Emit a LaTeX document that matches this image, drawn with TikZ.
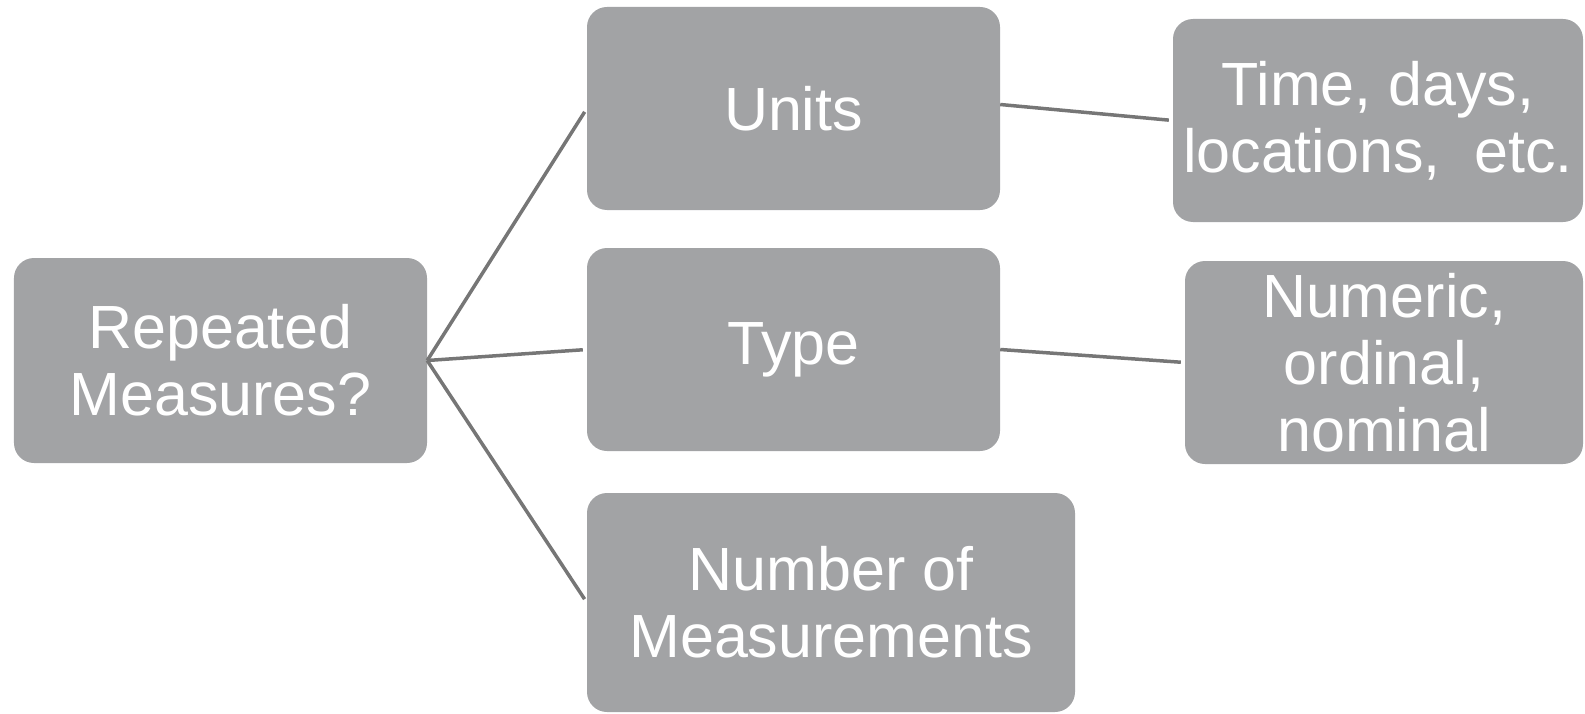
\documentclass[tikz,border=0pt]{standalone}
\usepackage{fontspec}
\setmainfont{Liberation Sans}
\definecolor{boxgray}{RGB}{162,163,165}
\definecolor{linkgray}{RGB}{118,118,118}
\begin{document}
\begin{tikzpicture}[x=1bp,y=-1bp,
  box/.style={rectangle, rounded corners=20bp, fill=boxgray, draw=none,
    text=white, align=center, inner sep=0pt,
    font=\fontsize{61bp}{67bp}\selectfont},
  link/.style={draw=linkgray, line width=3.5bp, shorten >=4bp}]
  \useasboundingbox (0,0) rectangle (1585,714);

  % root
  \node[box, minimum width=413bp, minimum height=205bp] (rep) at (220.5,360.5)
    {Repeated\\Measures?};

  % middle column
  \node[box, minimum width=413bp, minimum height=203bp] (units) at (793.5,108.5) {Units};
  \node[box, minimum width=413bp, minimum height=203bp] (type) at (793.5,349.5) {Type};
  \node[box, minimum width=488bp, minimum height=219bp] (num) at (831,602.5)
    {Number of\\Measurements};

  % right column
  \node[box, minimum width=410bp, minimum height=203bp] (time) at (1378,120.5)
    {Time, days,\\locations,~ etc.};
  \node[box, minimum width=398bp, minimum height=203bp] (kind) at (1384,362.5)
    {Numeric,\\ordinal,\\nominal};

  % connectors
  \draw[link] (rep.east) -- (units.west);
  \draw[link] (rep.east) -- (type.west);
  \draw[link] (rep.east) -- (num.west);
  \draw[link] ([yshift=4bp]units.east) -- (time.west);
  \draw[link] (type.east) -- (kind.west);
\end{tikzpicture}
\end{document}
